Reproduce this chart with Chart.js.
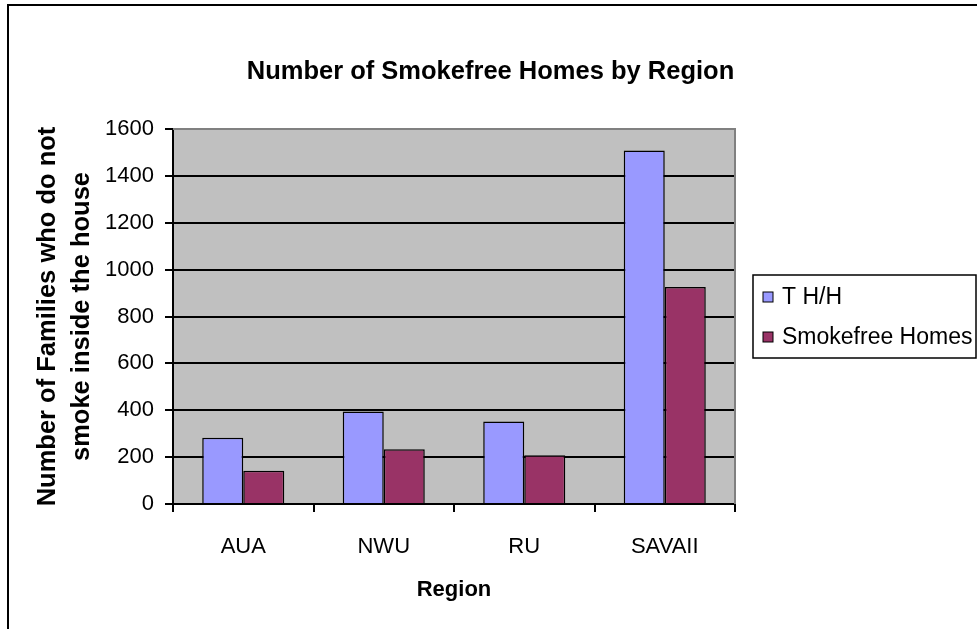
<!DOCTYPE html>
<html lang="en">
<head>
  <meta charset="UTF-8" />
  <title>Number of Smokefree Homes by Region</title>
  <script src="https://cdn.jsdelivr.net/npm/chart.js"></script>
  <style>
    html, body { margin: 0; padding: 0; background: #fff; overflow: hidden; }
    .wrap { position: relative; width: 977px; height: 629px; }
    .frame { position: absolute; left: 7px; top: 4px; width: 1100px; height: 800px; border: 2px solid #000; pointer-events: none; }
    canvas { position: absolute; left: 0; top: 0; }
  </style>
</head>
<body>
  <div class="wrap">
    <canvas id="smokeChart" width="977" height="629"></canvas>
    <div class="frame"></div>
  </div>

  <script>
    // data
    const regions = ['AUA', 'NWU', 'RU', 'SAVAII'];
    const totalHouseholds = [283, 395, 352, 1508];
    const smokefreeHomes = [142, 234, 208, 926];
    const yTicks = [0, 200, 400, 600, 800, 1000, 1200, 1400, 1600];
    const chartTitle = 'Number of Smokefree Homes by Region';

    const FONT = "'Liberation Sans', Arial, sans-serif";

    // grey plot area with a grey frame on top and right
    const plotBackground = {
      id: 'plotBackground',
      beforeDraw(chart) {
        const { ctx, chartArea: a } = chart;
        ctx.save();
        ctx.fillStyle = '#c0c0c0';
        ctx.fillRect(a.left, a.top, a.right - a.left, a.bottom - a.top);
        ctx.restore();
      },
      afterDatasetsDraw(chart) {
        const { ctx, chartArea: a } = chart;
        ctx.save();
        ctx.strokeStyle = '#808080';
        ctx.lineWidth = 2;
        ctx.beginPath();
        ctx.moveTo(a.left, a.top);
        ctx.lineTo(a.right, a.top);
        ctx.lineTo(a.right, a.bottom);
        ctx.stroke();
        ctx.restore();
      }
    };

    // title centred on the whole picture, not just the plot
    const pageTitle = {
      id: 'pageTitle',
      afterDraw(chart) {
        const { ctx, width } = chart;
        ctx.save();
        ctx.font = 'bold 25.5px ' + FONT;
        ctx.fillStyle = '#000';
        ctx.textAlign = 'center';
        ctx.textBaseline = 'middle';
        ctx.fillText(chartTitle, width / 2 + 2, 72);
        ctx.restore();
      }
    };

    // boxed legend to the right of the plot, like the Excel one
    const boxLegend = {
      id: 'boxLegend',
      afterDraw(chart) {
        const { ctx, chartArea: a } = chart;
        const sets = chart.data.datasets;
        const left = a.right + 18, width = 223, rowH = 40;
        const height = sets.length * rowH + 3;
        const top = (a.top + a.bottom) / 2 - height / 2;
        ctx.save();
        ctx.strokeStyle = '#000';
        ctx.lineWidth = 1.5;
        ctx.strokeRect(left, top, width, height);
        ctx.font = '23px ' + FONT;
        ctx.textBaseline = 'middle';
        sets.forEach((ds, i) => {
          const cy = top + rowH / 2 + 2 + i * rowH;
          ctx.fillStyle = ds.backgroundColor;
          ctx.fillRect(left + 10, cy - 5, 10, 10);
          ctx.strokeStyle = '#000';
          ctx.lineWidth = 1;
          ctx.strokeRect(left + 10, cy - 5, 10, 10);
          ctx.fillStyle = '#000';
          ctx.fillText(ds.label, left + 29, cy + 1);
        });
        ctx.restore();
      }
    };

    const ctx = document.getElementById('smokeChart').getContext('2d');
    const smokeChart = new Chart(ctx, {
      type: 'bar',
      data: {
        labels: regions,
        datasets: [{
          label: 'T H/H',
          data: totalHouseholds,
          backgroundColor: '#9999ff',
          borderColor: '#000',
          borderWidth: 1.5
        }, {
          label: 'Smokefree Homes',
          data: smokefreeHomes,
          backgroundColor: '#993366',
          borderColor: '#000',
          borderWidth: 1.5
        }]
      },
      options: {
        responsive: false,
        animation: false,
        categoryPercentage: 0.584,
        barPercentage: 1.0,
        layout: { padding: { left: 0, right: 242, top: 129, bottom: 0 } },
        plugins: {
          legend: { display: false },
          tooltip: { enabled: false },
          title: { display: false }
        },
        scales: {
          x: {
            afterFit: (scale) => { scale.height = 125; },
            grid: {
              offset: true,
              drawOnChartArea: false,
              color: '#000',
              lineWidth: 2,
              tickLength: 8
            },
            border: { color: '#000', width: 2 },
            ticks: { color: '#000', font: { family: FONT, size: 22 }, padding: 22 },
            title: {
              display: true,
              text: 'Region',
              color: '#000',
              font: { family: FONT, size: 22, weight: 'bold', lineHeight: 1.2 },
              padding: { top: 0, bottom: 26 }
            }
          },
          y: {
            min: 0,
            max: 1600,
            afterFit: (scale) => { scale.width = 173; },
            afterBuildTicks: (scale) => { scale.ticks = yTicks.map(v => ({ value: v })); },
            grid: { color: '#000', lineWidth: 2, tickLength: 8 },
            border: { color: '#000', width: 2 },
            ticks: {
              color: '#000',
              font: { family: FONT, size: 22 },
              padding: 11,
              callback: (value) => String(value)
            },
            title: {
              display: true,
              text: ['Number of Families who do not', 'smoke inside the house'],
              color: '#000',
              font: { family: FONT, size: 25.5, weight: 'bold', lineHeight: 1.33 },
              padding: { top: 31, bottom: 0 }
            }
          }
        }
      },
      plugins: [plotBackground, pageTitle, boxLegend]
    });
  </script>
</body>
</html>
